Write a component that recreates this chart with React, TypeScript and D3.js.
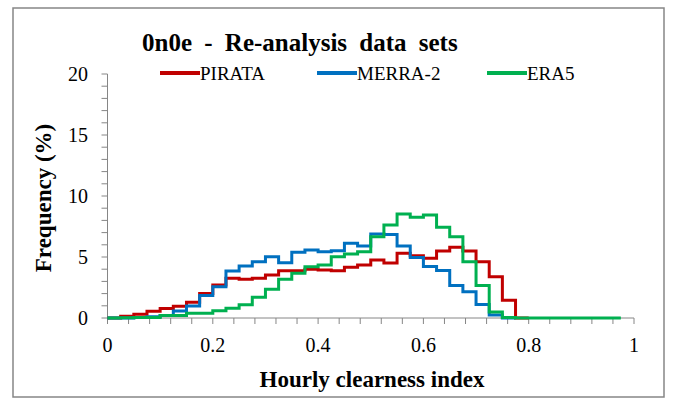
import * as d3 from "d3";

// bin edges every 0.025 starting at 0; each value is the % of hours in that bin
const binWidth = 0.025;
const pirata = [
  0, 0.15, 0.3, 0.55, 0.78, 0.97, 1.3, 2.0, 2.7, 3.25, 3.17, 3.25, 3.52, 3.88,
  3.88, 4.0, 3.93, 3.88, 4.15, 4.34, 4.75, 4.5, 5.3, 5.1, 4.89, 5.5, 5.8, 5.5,
  4.62, 3.39, 1.45, 0,
];
const merra2 = [
  0, 0, 0.05, 0.1, 0.2, 0.57, 0.98, 1.85, 2.57, 3.85, 4.26, 4.62, 5.03, 4.53,
  5.38, 5.57, 5.44, 5.52, 6.12, 5.9, 6.89, 6.85, 5.9, 4.95, 4.23, 3.9, 2.66,
  2.16, 1.1, 0.25, 0,
];
const era5 = [
  0, 0.03, 0.05, 0.05, 0.2, 0.2, 0.38, 0.38, 0.6, 0.8, 1.08, 1.7, 2.35, 3.17,
  3.66, 4.2, 4.34, 5.03, 5.25, 5.44, 6.67, 7.62, 8.52, 8.25, 8.44, 7.43, 6.67,
  4.62, 2.66, 0.5, 0.05, 0, 0, 0, 0, 0, 0, 0, 0,
];

const seriesNames = ["PIRATA", "MERRA-2", "ERA5"];
const seriesColors = ["#C00000", "#0070C0", "#00B050"];
const seriesData = [pirata, merra2, era5];

const xTickLabels = [0, 0.2, 0.4, 0.6, 0.8, 1];
const yTickLabels = [0, 5, 10, 15, 20];

const W = 673;
const H = 403;
const font = "'Liberation Serif', 'Times New Roman', serif";

const App = () => {
  const x = d3.scaleLinear().domain([0, 1]).range([107.5, 634]);
  const y = d3.scaleLinear().domain([0, 20]).range([318, 74]);

  const toPoints = (vals: number[]) => {
    const pts: [number, number][] = vals.map((v, i) => [i * binWidth, v]);
    pts.push([vals.length * binWidth, vals[vals.length - 1]]);
    return pts;
  };

  const line = d3
    .line<[number, number]>()
    .x((d) => x(d[0]))
    .y((d) => y(d[1]))
    .curve(d3.curveStepAfter);

  const xMinor = d3.range(0, 1.0001, 0.04);
  const yMinor = d3.range(0, 21, 1);
  const axisColor = "#868686";

  const legendX = [160, 317, 487];

  return (
    <svg
      width={W}
      height={H}
      style={{ position: "absolute", left: 0, top: 0, background: "#fff" }}
    >
      <rect x={0} y={0} width={W} height={H} fill="#fff" />
      <rect
        x={13}
        y={8}
        width={651}
        height={389}
        fill="none"
        stroke={axisColor}
        strokeWidth={1.5}
      />
      <text
        x={142}
        y={51}
        fontFamily={font}
        fontWeight="bold"
        fontSize={25}
        wordSpacing={6}
      >
        0n0e - Re-analysis data sets
      </text>

      {/* y axis */}
      <line x1={x(0)} x2={x(0)} y1={y(0)} y2={y(20)} stroke={axisColor} />
      {yMinor.map((t) => (
        <line
          key={"yt" + t}
          x1={x(0) - 6}
          x2={x(0)}
          y1={y(t)}
          y2={y(t)}
          stroke={axisColor}
        />
      ))}
      {yTickLabels.map((t) => (
        <text
          key={"yl" + t}
          x={88}
          y={y(t)}
          dy="0.35em"
          textAnchor="end"
          fontFamily={font}
          fontSize={20}
        >
          {t}
        </text>
      ))}

      {/* x axis */}
      <line x1={x(0)} x2={x(1)} y1={y(0)} y2={y(0)} stroke={axisColor} />
      {xMinor.map((t) => (
        <line
          key={"xt" + t}
          x1={x(t)}
          x2={x(t)}
          y1={y(0)}
          y2={y(0) + 6}
          stroke={axisColor}
        />
      ))}
      {xTickLabels.map((t) => (
        <text
          key={"xl" + t}
          x={x(t)}
          y={352}
          textAnchor="middle"
          fontFamily={font}
          fontSize={20}
        >
          {t}
        </text>
      ))}

      {/* series */}
      {seriesData.map((vals, i) => (
        <path
          key={seriesNames[i]}
          d={line(toPoints(vals)) || ""}
          fill="none"
          stroke={seriesColors[i]}
          strokeWidth={3}
        />
      ))}

      {/* legend */}
      {seriesNames.map((name, i) => (
        <g key={"lg" + name}>
          <line
            x1={legendX[i]}
            x2={legendX[i] + 40}
            y1={73}
            y2={73}
            stroke={seriesColors[i]}
            strokeWidth={4}
          />
          <text
            x={legendX[i] + 40}
            y={73}
            dy="0.35em"
            fontFamily={font}
            fontSize={19}
          >
            {name}
          </text>
        </g>
      ))}

      <text
        x={372}
        y={387}
        textAnchor="middle"
        fontFamily={font}
        fontWeight="bold"
        fontSize={23}
      >
        Hourly clearness index
      </text>
      <text
        transform={`translate(51,198) rotate(-90)`}
        textAnchor="middle"
        fontFamily={font}
        fontWeight="bold"
        fontSize={23}
      >
        Frequency (%)
      </text>
    </svg>
  );
};

export default App;
